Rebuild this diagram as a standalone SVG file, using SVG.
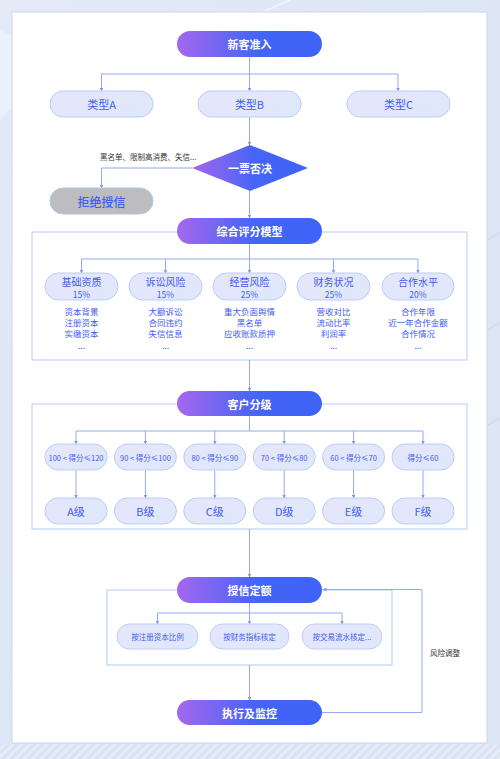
<svg xmlns="http://www.w3.org/2000/svg" width="500" height="759" viewBox="0 0 500 759">
<defs>
<linearGradient id="gMain" x1="0" y1="0" x2="1" y2="0">
<stop offset="0" stop-color="#a467ee"/>
<stop offset="0.55" stop-color="#4465f6"/>
<stop offset="1" stop-color="#3e63f7"/>
</linearGradient>
<linearGradient id="gLight" x1="0" y1="0" x2="1" y2="1">
<stop offset="0" stop-color="#e6e6fb"/>
<stop offset="1" stop-color="#dfe8fb"/>
</linearGradient>
<linearGradient id="gBg" x1="0" y1="0" x2="1" y2="1">
<stop offset="0" stop-color="#e3eaf6"/>
<stop offset="1" stop-color="#d8e3f3"/>
</linearGradient>
<pattern id="stripes" width="6" height="6" patternUnits="userSpaceOnUse" patternTransform="rotate(45)">
<rect width="6" height="6" fill="#d9e3f2"/>
<rect width="3" height="6" fill="#e6edf7"/>
</pattern>
<marker id="arr" markerWidth="4" markerHeight="4" refX="3.5" refY="2" orient="auto" markerUnits="userSpaceOnUse">
<path d="M0,0 L4,2 L0,4 z" fill="#7f97f2"/>
</marker>
<style>
.bg{fill:url(#gBg)}
.card{fill:#ffffff;stroke:#c9d7ee;stroke-width:1}
.main{fill:url(#gMain)}
.mainT{fill:#ffffff;font-family:"Noto Sans CJK SC",sans-serif;font-size:11px;font-weight:bold;text-anchor:middle;dominant-baseline:central}
.light{fill:url(#gLight);stroke:#bccdf6;stroke-width:1}
.lightT{fill:#3f5cf0;font-family:"Noto Sans CJK SC",sans-serif;text-anchor:middle;dominant-baseline:central}
.sub{fill:#3f5cf0;font-family:"Noto Sans CJK SC",sans-serif;font-size:8.5px;text-anchor:middle}
.note{fill:#333333;font-family:"Noto Sans CJK SC",sans-serif;font-size:7.5px;dominant-baseline:central}
.box{fill:none;stroke:#b7c8f6;stroke-width:1}
.ln{fill:none;stroke:#93a9f4;stroke-width:1}
.la{fill:none;stroke:#93a9f4;stroke-width:1;marker-end:url(#arr)}
</style>
</defs>

<!-- background -->
<rect class="bg" x="0" y="0" width="500" height="759"/>
<path d="M0,30 L60,60 L0,120 Z" fill="#eef3fa" opacity="0.7"/>
<path d="M263,12 L290,0" stroke="#f2f6fc" stroke-width="1.5"/>
<rect x="488" y="0" width="12" height="759" fill="#dce5f3"/>
<path d="M488,240 L500,232 M488,330 L500,322 M488,425 L500,418" stroke="#c7d4ea" stroke-width="1"/>
<rect x="0" y="744" width="500" height="15" fill="url(#stripes)"/>
<rect class="card" x="12" y="12" width="475" height="731"/>

<!-- section boxes -->
<g id="sec-score"><rect class="box" x="32" y="232" width="435" height="128"/></g>
<g id="sec-grade"><rect class="box" x="32" y="404" width="435" height="125"/></g>
<g id="sec-credit"><rect class="box" x="107" y="590" width="285" height="75"/></g>

<!-- connectors -->
<g id="connectors">
<path class="ln" d="M249.5,57 V74 M101.5,74 H398"/>
<path class="la" d="M101.5,74 V91"/>
<path class="la" d="M249.5,74 V91"/>
<path class="la" d="M398,74 V91"/>
<path class="la" d="M249.5,117 V145"/>
<path class="ln" d="M192,168 H101.5"/>
<path class="la" d="M101.5,168 V188"/>
<path class="la" d="M249.5,191 V218"/>
<path class="ln" d="M249.5,244 V259 M81.5,259 H418"/>
<path class="la" d="M81.5,259 V273"/>
<path class="la" d="M165.5,259 V273"/>
<path class="la" d="M249.5,259 V273"/>
<path class="la" d="M333.5,259 V273"/>
<path class="la" d="M418,259 V273"/>
<path class="la" d="M249.5,360 V391"/>
<path class="ln" d="M249.5,416 V431 M76,431 H423"/>
<path class="la" d="M76,431 V444"/>
<path class="la" d="M145.4,431 V444"/>
<path class="la" d="M214.8,431 V444"/>
<path class="la" d="M284.2,431 V444"/>
<path class="la" d="M353.6,431 V444"/>
<path class="la" d="M423,431 V444"/>
<path class="la" d="M76,470 V498"/>
<path class="la" d="M145.4,470 V498"/>
<path class="la" d="M214.8,470 V498"/>
<path class="la" d="M284.2,470 V498"/>
<path class="la" d="M353.6,470 V498"/>
<path class="la" d="M423,470 V498"/>
<path class="la" d="M249.5,529 V577"/>
<path class="ln" d="M249.5,603 V613 M157.5,613 H342"/>
<path class="la" d="M157.5,613 V624"/>
<path class="la" d="M249.5,613 V624"/>
<path class="la" d="M342,613 V624"/>
<path class="la" d="M249.5,665 V700"/>
<path class="la" d="M322,712.5 H422 V589.5 H323"/>
</g>
<text class="note" x="100" y="156">黑名单、限制高消费、失信...</text>
<text class="note" x="430" y="652" font-size="8">风险调整</text>

<!-- nodes -->
<g id="n-new"><rect class="main" x="177" y="31" width="145" height="26" rx="13"/><text class="mainT" x="249.5" y="44">新客准入</text></g>
<g id="n-typeA"><rect class="light" x="50" y="91" width="103" height="26" rx="13"/><text class="lightT" x="101.5" y="104" font-size="11">类型A</text></g>
<g id="n-typeB"><rect class="light" x="198" y="91" width="103" height="26" rx="13"/><text class="lightT" x="249.5" y="104" font-size="11">类型B</text></g>
<g id="n-typeC"><rect class="light" x="347" y="91" width="103" height="26" rx="13"/><text class="lightT" x="398.5" y="104" font-size="11">类型C</text></g>
<g id="n-veto"><path class="main" d="M192,168 L250,145 L308,168 L250,191 Z"/><text class="mainT" x="250" y="168">一票否决</text></g>
<g id="n-reject"><rect x="50" y="188" width="103" height="26" rx="13" fill="#bdbdbf" stroke="#b3c5f0"/><text class="lightT" x="101.5" y="201" font-size="12" font-weight="500">拒绝授信</text></g>

<g id="n-score"><rect class="main" x="177" y="218" width="145" height="26" rx="13"/><text class="mainT" x="249.5" y="231">综合评分模型</text></g>
<g id="n-s1"><rect class="light" x="45" y="273" width="73" height="27" rx="13.5"/><text class="lightT" x="81.5" y="281" font-size="10">基础资质</text><text class="lightT" x="81.5" y="293.5" font-size="8.5">15%</text>
<text class="sub" x="81.5" y="315">资本背景</text><text class="sub" x="81.5" y="326">注册资本</text><text class="sub" x="81.5" y="337">实缴资本</text><text class="sub" x="81.5" y="349">...</text></g>
<g id="n-s2"><rect class="light" x="129" y="273" width="73" height="27" rx="13.5"/><text class="lightT" x="165.5" y="281" font-size="10">诉讼风险</text><text class="lightT" x="165.5" y="293.5" font-size="8.5">15%</text>
<text class="sub" x="165.5" y="315">大额诉讼</text><text class="sub" x="165.5" y="326">合同违约</text><text class="sub" x="165.5" y="337">失信信息</text><text class="sub" x="165.5" y="349">...</text></g>
<g id="n-s3"><rect class="light" x="213" y="273" width="73" height="27" rx="13.5"/><text class="lightT" x="249.5" y="281" font-size="10">经营风险</text><text class="lightT" x="249.5" y="293.5" font-size="8.5">25%</text>
<text class="sub" x="249.5" y="315">重大负面舆情</text><text class="sub" x="249.5" y="326">黑名单</text><text class="sub" x="249.5" y="337">应收账款质押</text><text class="sub" x="249.5" y="349">...</text></g>
<g id="n-s4"><rect class="light" x="297" y="273" width="73" height="27" rx="13.5"/><text class="lightT" x="333.5" y="281" font-size="10">财务状况</text><text class="lightT" x="333.5" y="293.5" font-size="8.5">25%</text>
<text class="sub" x="333.5" y="315">营收对比</text><text class="sub" x="333.5" y="326">流动比率</text><text class="sub" x="333.5" y="337">利润率</text><text class="sub" x="333.5" y="349">...</text></g>
<g id="n-s5"><rect class="light" x="382" y="273" width="72" height="27" rx="13.5"/><text class="lightT" x="418" y="281" font-size="10">合作水平</text><text class="lightT" x="418" y="293.5" font-size="8.5">20%</text>
<text class="sub" x="418" y="315">合作年限</text><text class="sub" x="418" y="326">近一年合作金额</text><text class="sub" x="418" y="337">合作情况</text><text class="sub" x="418" y="349">...</text></g>

<g id="n-grade"><rect class="main" x="177" y="391" width="145" height="25" rx="12.5"/><text class="mainT" x="249.5" y="403.5">客户分级</text></g>
<g id="n-r1"><rect class="light" x="45" y="444" width="62" height="26" rx="13"/><text class="lightT" x="76" y="457" font-size="7.5">100 &lt; 得分≤120</text></g>
<g id="n-r2"><rect class="light" x="114.4" y="444" width="62" height="26" rx="13"/><text class="lightT" x="145.4" y="457" font-size="7.5">90 &lt; 得分≤100</text></g>
<g id="n-r3"><rect class="light" x="183.8" y="444" width="62" height="26" rx="13"/><text class="lightT" x="214.8" y="457" font-size="7.5">80 &lt; 得分≤90</text></g>
<g id="n-r4"><rect class="light" x="253.2" y="444" width="62" height="26" rx="13"/><text class="lightT" x="284.2" y="457" font-size="7.5">70 &lt; 得分≤80</text></g>
<g id="n-r5"><rect class="light" x="322.6" y="444" width="62" height="26" rx="13"/><text class="lightT" x="353.6" y="457" font-size="7.5">60 &lt; 得分≤70</text></g>
<g id="n-r6"><rect class="light" x="392" y="444" width="62" height="26" rx="13"/><text class="lightT" x="423" y="457" font-size="7.5">得分≤60</text></g>
<g id="n-gA"><rect class="light" x="45" y="498" width="62" height="26" rx="13"/><text class="lightT" x="76" y="511" font-size="11">A级</text></g>
<g id="n-gB"><rect class="light" x="114.4" y="498" width="62" height="26" rx="13"/><text class="lightT" x="145.4" y="511" font-size="11">B级</text></g>
<g id="n-gC"><rect class="light" x="183.8" y="498" width="62" height="26" rx="13"/><text class="lightT" x="214.8" y="511" font-size="11">C级</text></g>
<g id="n-gD"><rect class="light" x="253.2" y="498" width="62" height="26" rx="13"/><text class="lightT" x="284.2" y="511" font-size="11">D级</text></g>
<g id="n-gE"><rect class="light" x="322.6" y="498" width="62" height="26" rx="13"/><text class="lightT" x="353.6" y="511" font-size="11">E级</text></g>
<g id="n-gF"><rect class="light" x="392" y="498" width="62" height="26" rx="13"/><text class="lightT" x="423" y="511" font-size="11">F级</text></g>

<g id="n-credit"><rect class="main" x="177" y="577" width="145" height="26" rx="13"/><text class="mainT" x="249.5" y="590">授信定额</text></g>
<g id="n-c1"><rect class="light" x="117" y="624" width="81" height="25" rx="12.5"/><text class="lightT" x="157.5" y="636.5" font-size="7.5">按注册资本比例</text></g>
<g id="n-c2"><rect class="light" x="210" y="624" width="79" height="25" rx="12.5"/><text class="lightT" x="249.5" y="636.5" font-size="7.5">按财务指标核定</text></g>
<g id="n-c3"><rect class="light" x="302" y="624" width="80" height="25" rx="12.5"/><text class="lightT" x="342" y="636.5" font-size="7.5">按交易流水核定...</text></g>
<g id="n-exec"><rect class="main" x="177" y="700" width="145" height="25" rx="12.5"/><text class="mainT" x="249.5" y="712.5">执行及监控</text></g>
</svg>
